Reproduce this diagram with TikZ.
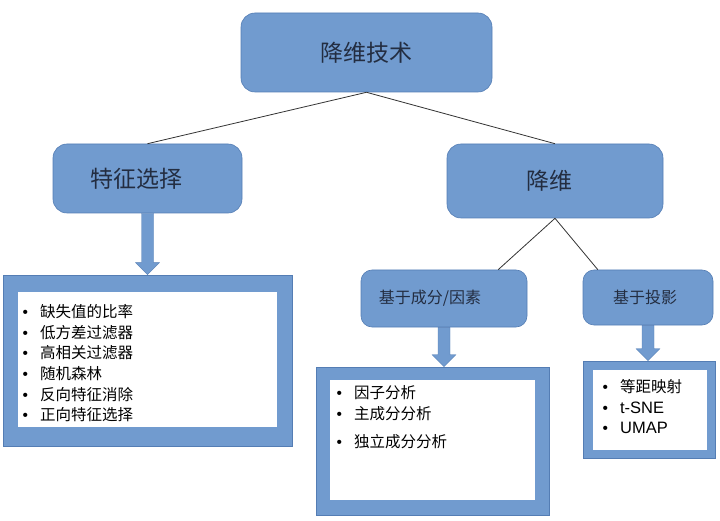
\documentclass[tikz,border=0pt]{standalone}
\usepackage{fontspec}
\setmainfont{Noto Sans CJK SC}
\newfontfamily\latinfont{Liberation Sans}
\usetikzlibrary{calc}

\definecolor{boxblue}{RGB}{113,155,207}
\definecolor{boxedge}{RGB}{84,125,180}
\definecolor{labelink}{RGB}{35,45,65}

\newcommand{\bul}{\makebox[17.5pt][l]{\latinfont\textbullet}}

\begin{document}
\begin{tikzpicture}[
            x = 1pt, y = -1pt, % pixel grid of the reference, y going down
            semithick, % line style
            bigfont/.style = {font=\fontsize{23}{27}\selectfont},
            smallfont/.style = {font=\fontsize{16}{19}\selectfont}
        ]

        \tikzstyle{box}=[
            draw = boxedge,
            fill = boxblue,
            rounded corners = 14pt,
            text = labelink,
            inner sep = 0pt
        ]
        \tikzstyle{frame}=[draw = boxedge, fill = boxblue, inner sep = 0pt]
        \tikzstyle{sheet}=[fill = white, inner sep = 0pt]
        \tikzstyle{items}=[
            anchor = north west,
            align = left,
            inner sep = 0pt,
            text = black,
            font = \fontsize{15.5}{20.6}\selectfont
        ]
        \tikzstyle{link}=[draw = black!80, line width = 0.8pt]
        \tikzstyle{bigarrow}=[draw = boxedge, fill = boxblue, thin]

        \useasboundingbox (0,0) rectangle (720,521);

        % boxes
        \node[box, bigfont, minimum width=251pt, minimum height=79pt] (top) at (366.5,52.5) {降维技术};
        \node[box, bigfont, minimum width=189pt, minimum height=69pt] (fs) at (147.5,178.5) {特征选择\hspace*{22pt}};
        \node[box, bigfont, minimum width=216pt, minimum height=74pt] (dr) at (555,181) {降维\hspace*{12pt}};
        \node[box, smallfont, minimum width=166pt, minimum height=57pt, rounded corners=11pt] (comp) at (444,298.5) {基于成分/因素\hspace*{28pt}};
        \node[box, smallfont, minimum width=130pt, minimum height=55pt, rounded corners=11pt] (proj) at (648,297.5) {基于投影\hspace*{6pt}};

        % lists
        \node[frame, minimum width=289pt, minimum height=171pt] (fsl) at (147.5,360.5) {};
        \node[sheet, minimum width=259pt, minimum height=135pt] (fsls) at (147.5,359.5) {};
        \node[items] (fsli) at (22.3,304.3) {\bul 缺失值的比率\\ \bul 低方差过滤器\\ \bul 高相关过滤器\\ \bul 随机森林\\ \bul 反向特征消除\\ \bul 正向特征选择};

        \node[frame, minimum width=233pt, minimum height=148pt] (compl) at (432.5,441) {};
        \node[sheet, minimum width=205pt, minimum height=120pt] (compls) at (432.5,440) {};
        \node[items] (compli) at (336.3,385.3) {\bul 因子分析\\ \bul 主成分分析\\[8pt] \bul 独立成分分析};

        \node[frame, minimum width=132pt, minimum height=97pt] (projl) at (649,409.5) {};
        \node[sheet, minimum width=114pt, minimum height=80pt] (projls) at (650,410) {};
        \node[items] (projli) at (602.3,379.3) {\bul 等距映射\\ \bul {\latinfont\fontsize{16.5}{20.6}\selectfont t-SNE}\\ \bul {\latinfont\fontsize{16.5}{20.6}\selectfont UMAP}};

        % tree lines
        \draw[link] (top.south) -- (fs.north);
        \draw[link] (top.south) -- (dr.north);
        \draw[link] (dr.south) -- (comp.28);
        \draw[link] (dr.south) -- (proj.151);

        % block arrows down to the lists
        \foreach \a/\b in {fs/fsl, comp/compl, proj/projl}
            \draw[bigarrow] ($(\a.south)+(-6,0)$) -- ($(\a.south |- \b.north)+(-6,-12)$) -- ++(-6,0)
                -- (\a.south |- \b.north) -- ++(12,-12) -- ++(-6,0) -- ($(\a.south)+(6,0)$) -- cycle;

    \end{tikzpicture}
\end{document}
